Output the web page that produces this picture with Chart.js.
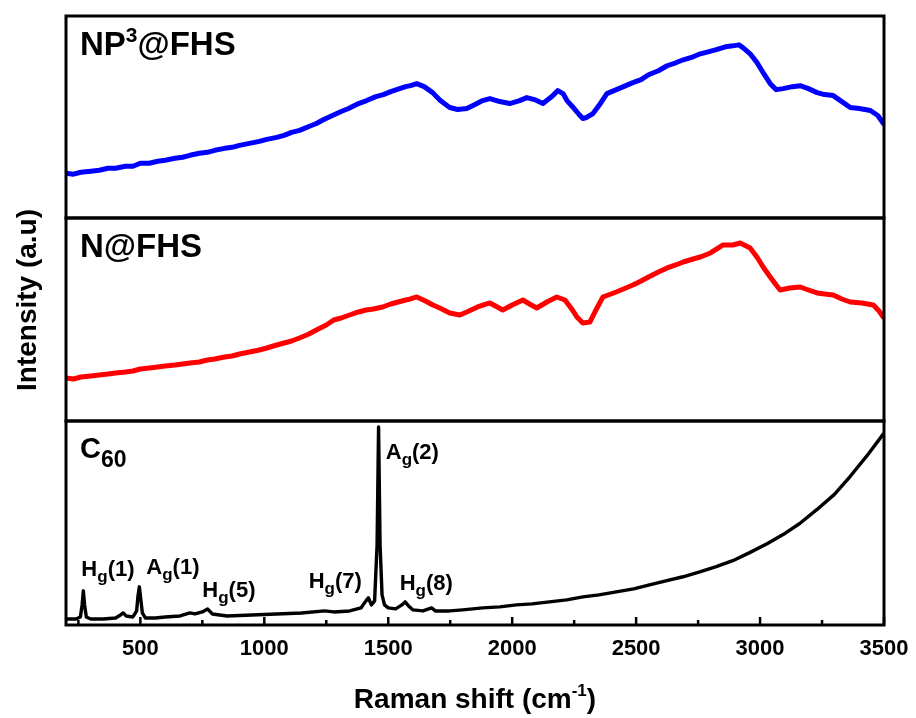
<!DOCTYPE html>
<html>
<head>
<meta charset="utf-8">
<script src="https://cdn.jsdelivr.net/npm/chart.js@4/dist/chart.umd.min.js"></script>
<style>
  html, body { margin: 0; padding: 0; background: #ffffff; }
  #wrap { position: relative; width: 916px; height: 718px; }
</style>
</head>
<body>
<div id="wrap"><canvas id="c" width="916" height="718"></canvas></div>
<script>
// ---------- DATA ----------
// Raman shift positions (cm^-1) and intensities (arbitrary units, panel-relative)
const np3Shift = [200, 230, 260, 300, 334, 370, 400, 440, 470, 500, 536, 570, 600, 640, 670, 700, 738, 770, 800, 840, 870, 900, 940, 980, 1010, 1050, 1080, 1110, 1142, 1180, 1210, 1240, 1275, 1310, 1340, 1380, 1413, 1450, 1480, 1510, 1546, 1570, 1590, 1615, 1645, 1679, 1710, 1748, 1780, 1817, 1850, 1881, 1910, 1950, 1990, 2030, 2059, 2090, 2124, 2160, 2184, 2205, 2221, 2250, 2270, 2285, 2300, 2326, 2350, 2382, 2430, 2487, 2520, 2550, 2590, 2625, 2660, 2690, 2730, 2759, 2790, 2820, 2860, 2891, 2915, 2932, 2960, 2988, 3015, 3041, 3065, 3093, 3130, 3162, 3195, 3230, 3260, 3295, 3330, 3364, 3400, 3445, 3475, 3497];
const np3Int   = [ 45,  44,  46,  47,  48,  50,  50,  52,  52,  55,  55,  57,  58,  60,  61,  63,  65,  66,  68,  70,  71,  73,  75,  77,  79,  81,  83,  86,  88,  92,  95,  99, 103, 107, 110, 115, 118, 122, 124, 127, 130, 132, 133, 135, 132, 126, 118, 111, 109, 110, 114, 118, 120, 117, 115, 118, 121, 119, 115, 122, 128, 125, 118, 110, 104, 100, 101, 105, 113, 125, 130, 136, 139, 144, 148, 153, 156, 159, 162, 165, 167, 169, 172, 173, 174, 171, 165, 156, 145, 135, 129, 130, 132, 133, 130, 126, 124, 123, 117, 111, 110, 108, 103,  95];

const nShift = [200, 230, 260, 300, 334, 370, 400, 440, 470, 500, 536, 570, 600, 640, 670, 700, 738, 770, 800, 840, 870, 900, 940, 980, 1010, 1050, 1080, 1110, 1142, 1180, 1210, 1250, 1280, 1310, 1344, 1380, 1410, 1440, 1477, 1510, 1540, 1570, 1590, 1615, 1650, 1680, 1708, 1748, 1789, 1817, 1860, 1910, 1940, 1962, 2000, 2043, 2070, 2099, 2140, 2180, 2213, 2240, 2261, 2285, 2314, 2340, 2366, 2420, 2487, 2520, 2550, 2590, 2625, 2660, 2690, 2730, 2759, 2800, 2851, 2890, 2920, 2960, 2990, 3015, 3041, 3065, 3081, 3120, 3162, 3195, 3230, 3260, 3295, 3330, 3364, 3410, 3457, 3480, 3497];
const nInt   = [ 43,  42,  44,  45,  46,  47,  48,  49,  50,  52,  53,  54,  55,  56,  57,  58,  59,  61,  62,  64,  65,  67,  69,  71,  73,  76,  78,  80,  83,  87,  91,  96, 101, 103, 106, 109, 111, 112, 114, 117, 119, 121, 122, 124, 120, 116, 113, 108, 106, 109, 114, 118, 114, 111, 116, 121, 117, 113, 119, 124, 121, 112, 104,  98,  99, 112, 124, 129, 136, 140, 144, 149, 153, 156, 159, 162, 164, 168, 176, 176, 178, 173, 163, 153, 144, 136, 131, 133, 134, 131, 128, 127, 126, 122, 119, 118, 116, 110, 104];

const c60Shift = [200, 240, 258, 265, 270, 275, 282, 300, 350, 400, 420, 431, 442, 470, 485, 490, 496, 502, 508, 520, 560, 600, 660, 700, 720, 750, 771, 790, 850, 950, 1050, 1150, 1243, 1280, 1344, 1390, 1410, 1420, 1432, 1445, 1455, 1461, 1467, 1475, 1485, 1500, 1530, 1555, 1568, 1582, 1600, 1640, 1675, 1690, 1748, 1800, 1881, 1950, 2017, 2080, 2150, 2220, 2285, 2350, 2420, 2490, 2554, 2620, 2689, 2760, 2823, 2890, 2958, 3030, 3093, 3160, 3230, 3300, 3364, 3430, 3497];
const c60Int   = [  6,   6,   8,  20,  34,  20,   8,   6,   6,   7,  10,  12,   9,   8,  14,  28,  38,  25,  12,   7,   7,   8,   9,  12,  11,  13,  16,  11,   9,  10,  11,   12,  14,  13,  14,  17,  24,  27,  20,  24,  80, 197,  80,  30,  20,  17,  16,  20,  23,  19,  15,  14,  17,  14,  14,  15,  17,  18,  20,  21,  23,  25,  28,  30,  33,  36,  40,  44,  48,  53,  58,  64,  72,  81,  90, 101, 115, 130, 148, 168, 190];

const xMajorTicks = [500, 1000, 1500, 2000, 2500, 3000, 3500];
const xMinorTicks = [250, 750, 1250, 1750, 2250, 2750, 3250];

const panelLabels = {
  y3: [{t: 'NP', size: 33, dy: 0}, {t: '3', size: 21, dy: -13}, {t: '@FHS', size: 33, dy: 0}],
  y2: [{t: 'N@FHS', size: 33, dy: 0}],
  y:  [{t: 'C', size: 29, dy: 0}, {t: '60', size: 23, dy: 9}]
};

// C60 mode labels: main letter, index, position (cm^-1), intensity
const peakLabels = [
  {m: 'H', n: '(1)', x: 262,  y: 49},
  {m: 'A', n: '(1)', x: 524,  y: 51},
  {m: 'H', n: '(5)', x: 750,  y: 28},
  {m: 'H', n: '(7)', x: 1179, y: 37},
  {m: 'A', n: '(2)', x: 1490, y: 165},
  {m: 'H', n: '(8)', x: 1546, y: 35}
];

// ---------- CHART ----------
const FONT = '"Liberation Sans", Arial, Helvetica, sans-serif';
const toPts = (xs, ys) => xs.map((v, i) => ({x: v, y: ys[i]}));

function drawRich(ctx, x, y, parts) {
  let cx = x;
  for (const p of parts) {
    ctx.font = 'bold ' + p.size + 'px ' + FONT;
    ctx.fillText(p.t, cx, y + p.dy);
    cx += ctx.measureText(p.t).width;
  }
  return cx;
}
function richWidth(ctx, parts) {
  let w = 0;
  for (const p of parts) { ctx.font = 'bold ' + p.size + 'px ' + FONT; w += ctx.measureText(p.t).width; }
  return w;
}

const decor = {
  id: 'decor',
  afterDraw(chart) {
    const ctx = chart.ctx, a = chart.chartArea, sx = chart.scales.x;
    ctx.save();
    ctx.fillStyle = '#000';
    ctx.strokeStyle = '#000';
    ctx.textBaseline = 'alphabetic';
    ctx.textAlign = 'left';
    // panel frames
    ctx.lineWidth = 3;
    for (const id of ['y3', 'y2', 'y']) {
      const s = chart.scales[id];
      ctx.strokeRect(a.left, s.top, a.right - a.left, s.bottom - s.top);
    }
    // inward ticks on bottom axis
    ctx.lineWidth = 2.5;
    ctx.beginPath();
    for (const v of xMajorTicks) { const px = sx.getPixelForValue(v); ctx.moveTo(px, a.bottom); ctx.lineTo(px, a.bottom - 8); }
    for (const v of xMinorTicks) { const px = sx.getPixelForValue(v); ctx.moveTo(px, a.bottom); ctx.lineTo(px, a.bottom - 5); }
    ctx.stroke();
    // panel labels
    for (const id of ['y3', 'y2', 'y']) {
      const s = chart.scales[id];
      drawRich(ctx, a.left + 14, s.top + (id === 'y' ? 37 : 39), panelLabels[id]);
    }
    // peak labels
    const sy = chart.scales.y;
    for (const p of peakLabels) {
      drawRich(ctx, sx.getPixelForValue(p.x), sy.getPixelForValue(p.y),
        [{t: p.m, size: 22, dy: 0}, {t: 'g', size: 17, dy: 6}, {t: p.n, size: 22, dy: 0}]);
    }
    // x title with superscript
    const xt = [{t: 'Raman shift (cm', size: 28, dy: 0}, {t: '-1', size: 17, dy: -12}, {t: ')', size: 28, dy: 0}];
    const w = richWidth(ctx, xt);
    drawRich(ctx, (a.left + a.right) / 2 - w / 2, 708, xt);
    // y title
    ctx.translate(36, 300);
    ctx.rotate(-Math.PI / 2);
    ctx.font = 'bold 28px ' + FONT;
    ctx.textAlign = 'center';
    ctx.fillText('Intensity (a.u)', 0, 0);
    ctx.restore();
  }
};

const yPanel = (weight) => ({
  type: 'linear', position: 'left', stack: 'panels', stackWeight: weight,
  min: 0, max: 203, offset: false,
  ticks: {display: false}, grid: {display: false, drawTicks: false}, border: {display: false},
  afterFit(s) { s.width = 0; }
});

new Chart(document.getElementById('c'), {
  type: 'line',
  data: {
    datasets: [
      {label: 'C60', data: toPts(c60Shift, c60Int), yAxisID: 'y', borderColor: '#000000', borderWidth: 3.4},
      {label: 'N@FHS', data: toPts(nShift, nInt), yAxisID: 'y2', borderColor: '#ff0000', borderWidth: 5},
      {label: 'NP3@FHS', data: toPts(np3Shift, np3Int), yAxisID: 'y3', borderColor: '#0000ff', borderWidth: 5}
    ]
  },
  options: {
    responsive: false,
    animation: false,
    events: [],
    layout: {padding: {left: 66, right: 32, top: 16, bottom: 0}},
    elements: {point: {radius: 0}, line: {tension: 0, borderJoinStyle: 'round', borderCapStyle: 'round'}},
    plugins: {legend: {display: false}, tooltip: {enabled: false}, title: {display: false}},
    scales: {
      x: {
        type: 'linear', position: 'bottom', min: 200, max: 3500,
        afterBuildTicks(s) { s.ticks = xMajorTicks.map(v => ({value: v})); },
        afterFit(s) { s.height = 93; s.paddingLeft = 0; s.paddingRight = 0; },
        grid: {display: false, drawTicks: false}, border: {display: false},
        ticks: {color: '#000', font: {family: FONT, size: 22, weight: 'bold'}, padding: 11, maxRotation: 0, autoSkip: false,
                callback: (v) => String(v)}
      },
      y: yPanel(1.005),
      y2: yPanel(1),
      y3: yPanel(0.995)
    }
  },
  plugins: [decor]
});
</script>
</body>
</html>
